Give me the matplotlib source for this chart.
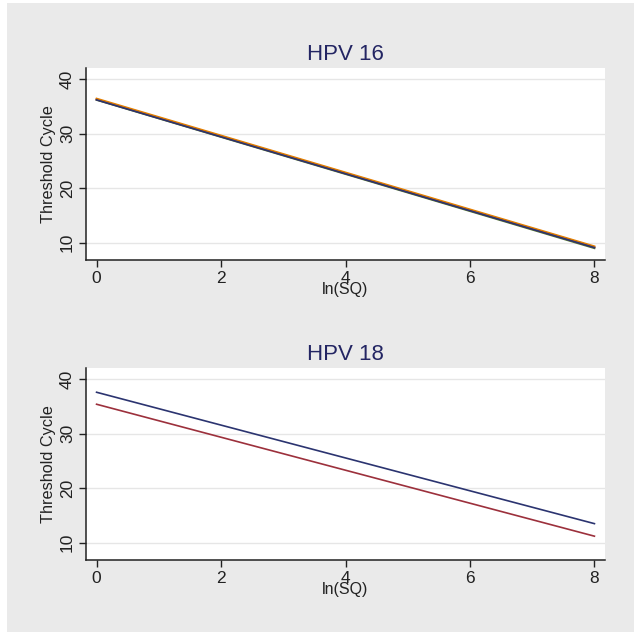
import matplotlib
matplotlib.use("Agg")
import matplotlib.pyplot as plt
from matplotlib.patches import Rectangle
from matplotlib import font_manager

# ---- data ----
ln_sq = [0, 8]
hpv16_navy = [36.2, 9.1]
hpv16_maroon = [36.3, 9.2]
hpv16_green = [36.2, 9.0]
hpv16_orange = [36.45, 9.35]
hpv18_navy = [37.6, 13.5]
hpv18_maroon = [35.4, 11.2]

titles = ["HPV 16", "HPV 18"]
yticks = [10, 20, 30, 40]
xticks = [0, 2, 4, 6, 8]

names = {f.name for f in font_manager.fontManager.ttflist}
if "Liberation Sans Narrow" in names:
    tick_font, tick_size = "Liberation Sans Narrow", 13.5
else:
    tick_font, tick_size = "Liberation Sans", 12.5

NAVY = "#2b3470"
MAROON = "#9c303c"
GREEN = "#55752f"
ORANGE = "#e37e00"
BG = "#eaeaea"
TXT = "#222222"

fig = plt.figure(figsize=(6.34, 6.32), dpi=100, facecolor="white")
fig.patches.append(Rectangle((7 / 634, 0), 1, 1 - 3 / 632, transform=fig.transFigure,
                             facecolor=BG, edgecolor="none", zorder=-10))

def style(ax, title):
    ax.set_facecolor("white")
    ax.set_xlim(-0.17, 8.17)
    ax.set_ylim(6.83, 42.05)
    for s in ("top", "right"):
        ax.spines[s].set_visible(False)
    for s in ("left", "bottom"):
        ax.spines[s].set_color(TXT)
        ax.spines[s].set_linewidth(1.1)
    ax.set_yticks(yticks)
    ax.set_xticks(xticks)
    ax.grid(axis="y", color="#e6e6e6", linewidth=1.0)
    ax.set_axisbelow(True)
    ax.tick_params(axis="both", direction="out", length=5, width=1.0, color=TXT,
                   labelsize=tick_size, labelcolor=TXT, pad=3)
    for lab in ax.get_yticklabels():
        lab.set_rotation(90)
        lab.set_va("center")
        lab.set_family(tick_font)
    for lab in ax.get_xticklabels():
        lab.set_family(tick_font)
    ax.set_ylabel("Threshold Cycle", fontsize=11.7, color=TXT, labelpad=3,
                  family="Liberation Sans")
    ax.set_xlabel("ln(SQ)", fontsize=11.5, color=TXT, labelpad=-3,
                  family="Liberation Sans")
    ax.set_title(title, fontsize=16, color="#232563", pad=6, family="Liberation Sans")

ax1 = fig.add_axes([86 / 634, 1 - 260 / 632, (605 - 86) / 634, (260 - 68) / 632])
ax1.plot(ln_sq, hpv16_green, color=GREEN, lw=1.4)
ax1.plot(ln_sq, hpv16_maroon, color=MAROON, lw=1.4)
ax1.plot(ln_sq, hpv16_orange, color=ORANGE, lw=1.3)
ax1.plot(ln_sq, hpv16_navy, color=NAVY, lw=1.2)
style(ax1, titles[0])

ax2 = fig.add_axes([86 / 634, 1 - 560 / 632, (605 - 86) / 634, (560 - 368) / 632])
ax2.plot(ln_sq, hpv18_navy, color=NAVY, lw=1.2)
ax2.plot(ln_sq, hpv18_maroon, color=MAROON, lw=1.2)
style(ax2, titles[1])

fig.savefig("out.png", dpi=100, facecolor=fig.get_facecolor())
